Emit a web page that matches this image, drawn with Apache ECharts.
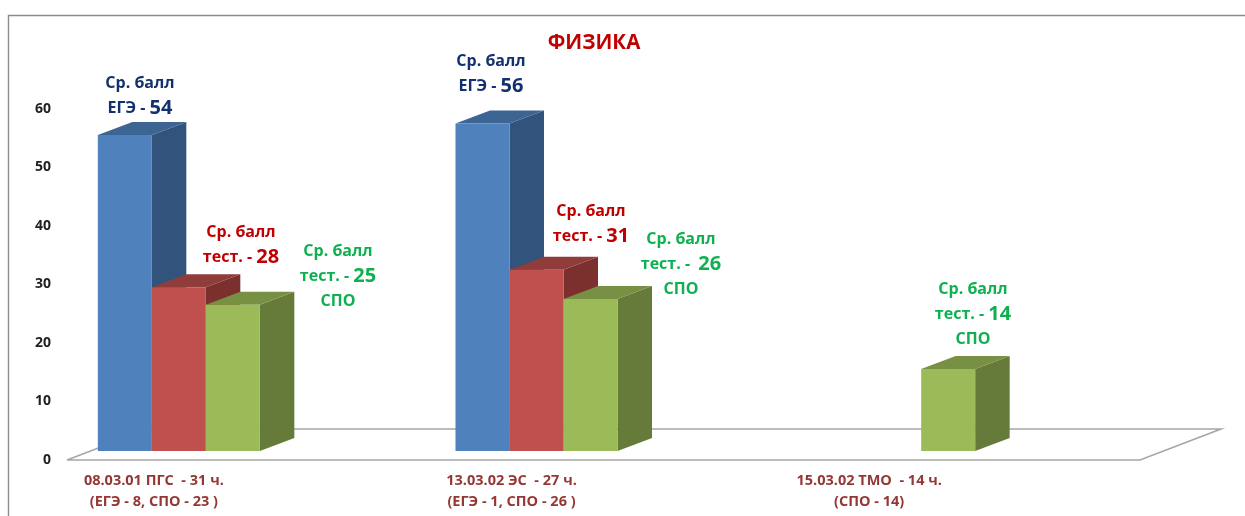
<!DOCTYPE html>
<html><head><meta charset="utf-8">
<style>html,body{margin:0;padding:0;background:#fff}#c{width:1245px;height:516px}</style>
<script src="https://cdn.jsdelivr.net/npm/echarts@6/dist/echarts.min.js"></script>
</head><body><div id="c"></div>
<script>
const categories = ['08.03.01 ПГС  - 31 ч.\n(ЕГЭ - 8, СПО - 23 )', '13.03.02 ЭС  - 27 ч.\n(ЕГЭ - 1, СПО - 26 )', '15.03.02 ТМО  - 14 ч.\n(СПО - 14)'];
const egeValues = [54, 56, null];
const testValues = [28, 31, null];
const spoValues = [25, 26, 14];
const yTicks = [0, 10, 20, 30, 40, 50, 60];

const egeColors = {front:'#4f81bd', top:'#3d6594', side:'#32547c'};
const testColors = {front:'#c0504d', top:'#8f3c3a', side:'#7b302e'};
const spoColors = {front:'#9bbb59', top:'#779043', side:'#667a3a'};
const font = '"Open Sans", "Noto Sans", sans-serif';
const barW = 54, depthX = 34.5, depthY = 13, frontLift = 9;
const clusterShift = -148;

function barSeries(name, values, slot, c) {
  return {
    type: 'custom', name, z: 3 + slot,
    data: values.map((v, i) => [i, v]),
    encode: {x: 0, y: 1},
    renderItem(params, api) {
      if (api.value(1) == null || isNaN(api.value(1))) return;
      const top = api.coord([api.value(0), api.value(1)]);
      const base = api.coord([api.value(0), 0]);
      const x = top[0] + clusterShift + slot * barW;
      const y0 = base[1] - frontLift, y1 = top[1] - frontLift;
      const dx = depthX, dy = depthY;
      return {type: 'group', children: [
        {type:'polygon', shape:{points:[[x+barW,y1],[x+barW+dx,y1-dy],[x+barW+dx,y0-dy],[x+barW,y0]]}, style:{fill:c.side}},
        {type:'polygon', shape:{points:[[x,y1],[x+dx,y1-dy],[x+barW+dx,y1-dy],[x+barW,y1]]}, style:{fill:c.top}},
        {type:'rect', shape:{x, y:y1, width:barW, height:y0-y1}, style:{fill:c.front}}
      ]};
    }
  };
}

const navy = '#12316e', red = '#c00000', green = '#0fb050';
function rich(c) {
  return {
    t: {fontFamily:font, fontWeight:'bold', fontSize:16, fill:c, lineHeight:25},
    n: {fontFamily:font, fontWeight:'bold', fontSize:20, fill:c, lineHeight:25}
  };
}
const valueNotes = [
  {x:140, y:96, c:navy, text:'{t|Ср. балл}\n{t|ЕГЭ - }{n|54}'},
  {x:491, y:74, c:navy, text:'{t|Ср. балл}\n{t|ЕГЭ - }{n|56}'},
  {x:241, y:245, c:red, text:'{t|Ср. балл}\n{t|тест. - }{n|28}'},
  {x:591, y:224, c:red, text:'{t|Ср. балл}\n{t|тест. - }{n|31}'},
  {x:338, y:276, c:green, text:'{t|Ср. балл}\n{t|тест. - }{n|25}\n{t|СПО}'},
  {x:681, y:264, c:green, text:'{t|Ср. балл}\n{t|тест. -  }{n|26}\n{t|СПО}'},
  {x:973, y:314, c:green, text:'{t|Ср. балл}\n{t|тест. - }{n|14}\n{t|СПО}'}
];

const option = {
  animation: false,
  backgroundColor: '#fff',
  title: {text:'ФИЗИКА', left:589, top:28, textAlign:'center',
    textStyle:{fontFamily:font, fontWeight:'bold', fontSize:20.5, color:'#c00000'}},
  grid: {left:67, width:1073, top:109, height:351},
  xAxis: {type:'category', data:categories, axisLine:{show:false}, axisTick:{show:false}, axisLabel:{show:false}},
  yAxis: {type:'value', min:0, max:60, interval:10, axisLine:{show:false}, axisTick:{show:false}, splitLine:{show:false},
    axisLabel:{margin:16, fontFamily:font, fontWeight:'bold', fontSize:14, color:'#1f1f1f',
      formatter:v => yTicks.includes(v) ? String(v) : ''}},
  series: [
    {type:'custom', z:1, silent:true, data:[[0,0]], encode:{x:0,y:1},
     renderItem(params, api) {
       const base = api.coord([0, 0]);
       const yF = base[1], yB = yF - 31, xL = 67, xR = 67 + 1073;
       return {type:'polyline', shape:{points:[[xL,yF],[xR,yF],[xR+81,yB],[xL+81,yB],[xL,yF]]}, style:{stroke:'#a6a6a6', lineWidth:1.6, fill:'#fff'}};
     }},
    barSeries('ЕГЭ', egeValues, 0, egeColors),
    barSeries('тест.', testValues, 1, testColors),
    barSeries('СПО', spoValues, 2, spoColors),
    {type:'custom', z:6, silent:true, data:categories.map((c,i)=>[i,0]), encode:{x:0,y:1},
     renderItem(params, api) {
       const p = api.coord([api.value(0), 0]);
       return {type:'text', style:{x:p[0] - 92, y:p[1] + 10, text:categories[params.dataIndex], textAlign:'center', textVerticalAlign:'top',
         fontFamily:font, fontWeight:'bold', fontSize:14.5, lineHeight:21, fill:'#953735'}};
     }}
  ],
  graphic: [
    {type:'polyline', silent:true, z:0, shape:{points:[[8.5,516],[8.5,15.5],[1245,15.5]]}, style:{stroke:'#8c8c8c', lineWidth:1.4, fill:null}},
    ...valueNotes.map(n => ({type:'text', z:20, silent:true, x:n.x, y:n.y,
      style:{text:n.text, rich:rich(n.c), align:'center', verticalAlign:'middle'}}))
  ]
};
echarts.init(document.getElementById('c')).setOption(option);
</script></body></html>
